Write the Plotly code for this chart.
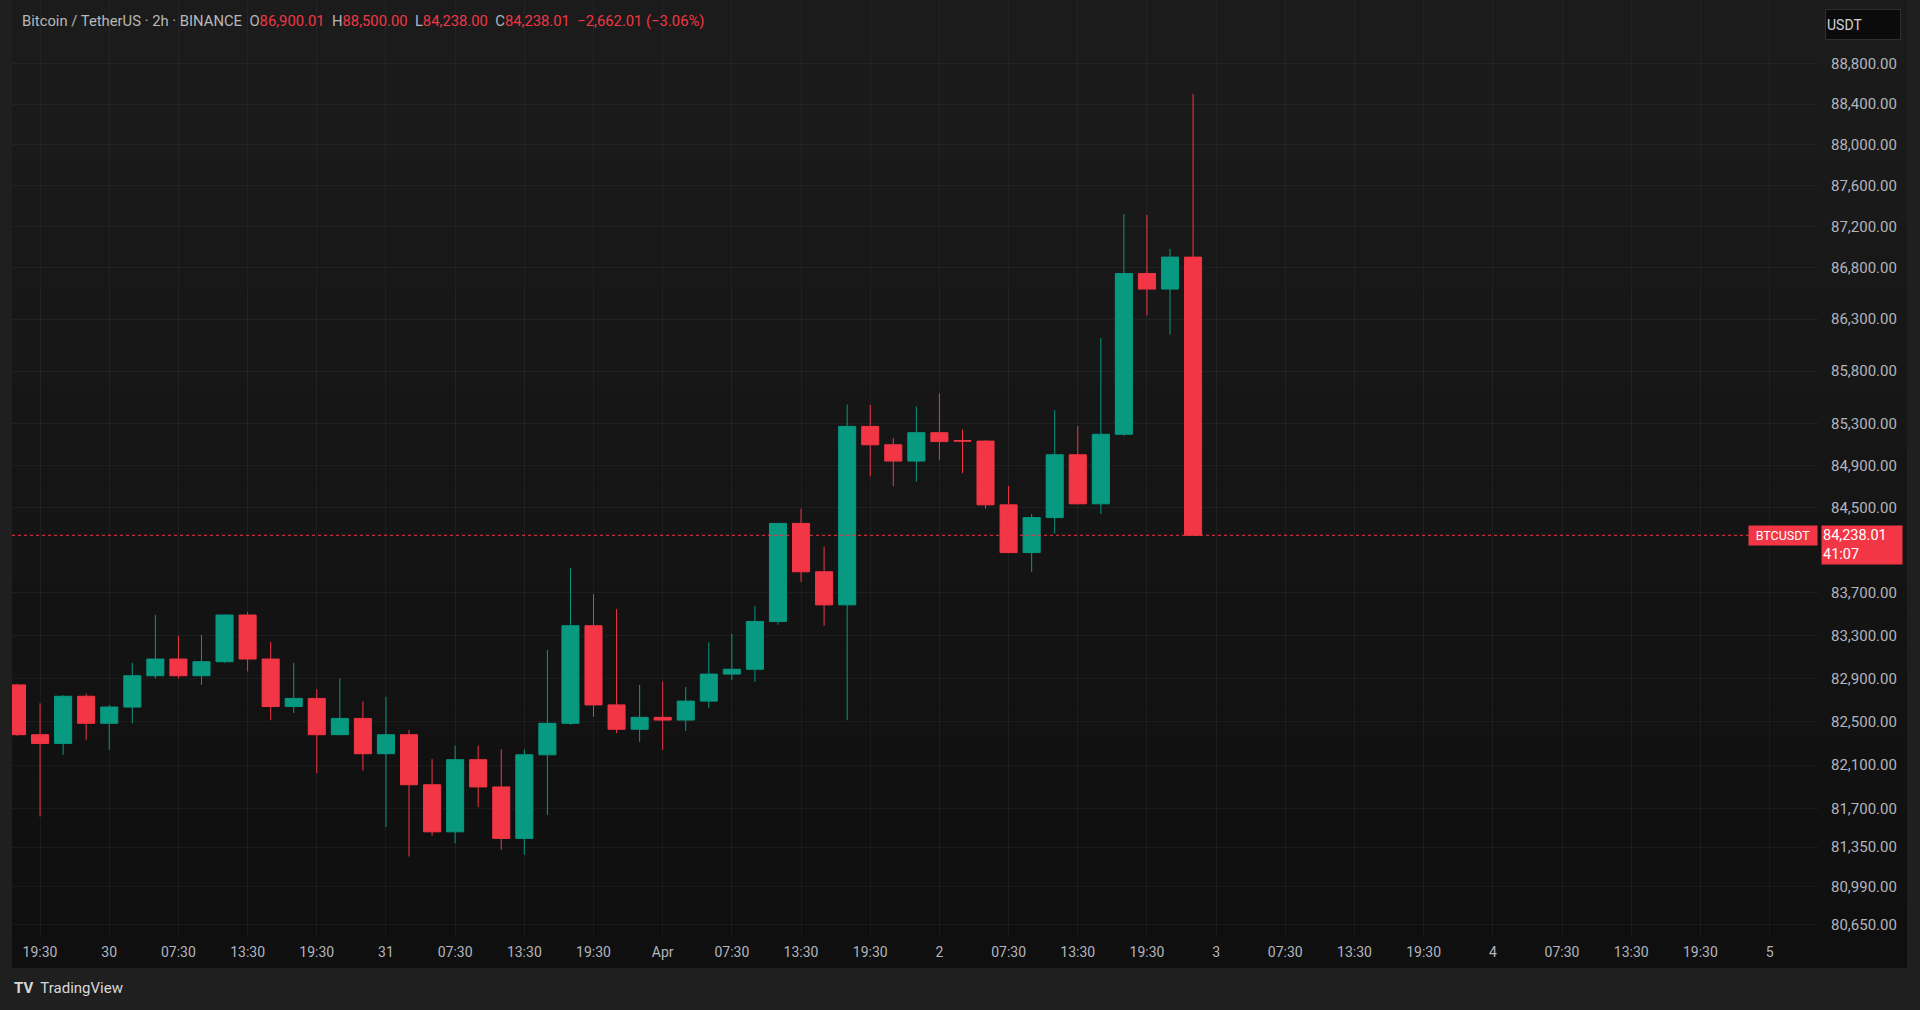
import plotly.graph_objects as go
import pandas as pd
import numpy as np

# ---------------- data (BTC/USDT, 2h bars) ----------------
opens = [82840, 82380, 82300, 82735, 82485, 82635, 82925, 83080, 82925, 83055,
         83490, 83080, 82640, 82715, 82380, 82530, 82205, 82380, 81920, 81490,
         82150, 81900, 81430, 82195, 82485, 83390, 82655, 82430, 82540, 82515,
         82690, 82940, 82985, 83430, 84350, 83895, 83585, 85270, 85095, 84940,
         85210, 85135, 85130, 84525, 84075, 84405, 85000, 84535, 85195, 86740,
         86590, 86900.01]
highs = [82850, 82670, 82745, 82760, 82655, 83045, 83490, 83295, 83305, 83495,
         83520, 83240, 83045, 82800, 82900, 82685, 82730, 82425, 82155, 82280,
         82280, 82245, 82245, 83165, 83930, 83685, 83545, 82840, 82870, 82820,
         83235, 83315, 83575, 84355, 84490, 84130, 85480, 85475, 85160, 85460,
         85585, 85240, 85140, 84705, 84440, 85425, 85275, 86115, 87320, 87310,
         86980, 88500.00]
lows = [82370, 81630, 82195, 82330, 82240, 82485, 82900, 82900, 82840, 83045,
        82965, 82515, 82580, 82025, 82375, 82050, 81535, 81265, 81455, 81385,
        81715, 81325, 81280, 81645, 82470, 82545, 82395, 82315, 82240, 82415,
        82625, 82885, 82870, 83400, 83800, 83390, 82515, 84795, 84700, 84745,
        84950, 84825, 84490, 84070, 83895, 84255, 84530, 84440, 85180, 86335,
        86150, 84238.00]
closes = [82380, 82300, 82735, 82485, 82635, 82925, 83080, 82925, 83055, 83490,
          83080, 82640, 82715, 82380, 82530, 82205, 82380, 81920, 81490, 82150,
          81900, 81430, 82195, 82485, 83390, 82655, 82430, 82540, 82515, 82690,
          82940, 82985, 83430, 84350, 83895, 83585, 85270, 85095, 84940, 85210,
          85125, 85130, 84525, 84075, 84405, 85000, 84535, 85195, 86740, 86590,
          86900, 84238.01]
bar_times = pd.date_range("2025-03-29 17:30", periods=len(opens), freq="2h")

x_tick_vals = pd.date_range("2025-03-29 19:30", periods=26, freq="6h")
x_tick_text = ["19:30", "30", "07:30", "13:30", "19:30", "31", "07:30", "13:30",
               "19:30", "Apr", "07:30", "13:30", "19:30", "2", "07:30", "13:30",
               "19:30", "3", "07:30", "13:30", "19:30", "4", "07:30", "13:30",
               "19:30", "5"]
y_tick_vals = [88800, 88400, 88000, 87600, 87200, 86800, 86300, 85800, 85300,
               84900, 84500, 83700, 83300, 82900, 82500, 82100, 81700, 81350,
               80990, 80650]
y_tick_text = [f"{v:,.2f}" for v in y_tick_vals]

symbol_title = "Bitcoin / TetherUS · 2h · BINANCE"
change_text = "−2,662.01 (−3.06%)"
countdown = "41:07"

# ---------------- styling / layout helpers ----------------
W, H = 1920, 1010
PL, PR, PT, PB = 12, 1818, 0, 937  # plot area in pixels


def xp(px):
    return (px - PL) / (PR - PL)


def yp(py):
    return (PB - py) / (PB - PT)


GREEN = "#089981"
RED = "#f23645"
TXT = "#b2b5be"
FONT = "Roboto"

fig = go.Figure()
fig.add_trace(go.Candlestick(
    x=bar_times, open=opens, high=highs, low=lows, close=closes,
    increasing=dict(line=dict(color=GREEN, width=1), fillcolor=GREEN),
    decreasing=dict(line=dict(color=RED, width=1), fillcolor=RED),
    whiskerwidth=0, showlegend=False, hoverinfo="skip",
))

shapes = []
# pane background with slight vertical gradient
n_bands = 30
top_c, bot_c = np.array([28, 28, 28]), np.array([15, 15, 15])
y0px, y1px = 0, 967
for i in range(n_bands):
    a = y0px + (y1px - y0px) * i / n_bands
    b = y0px + (y1px - y0px) * (i + 1) / n_bands
    c = top_c + (bot_c - top_c) * (i + 0.5) / n_bands
    shapes.append(dict(type="rect", xref="paper", yref="paper", layer="below",
                       x0=xp(12), x1=xp(1907), y0=yp(b) - 0.001, y1=yp(a),
                       fillcolor=f"rgb({int(c[0])},{int(c[1])},{int(c[2])})",
                       line=dict(width=0)))
# last price dotted line
shapes.append(dict(type="line", xref="paper", yref="y", x0=0, x1=1,
                   y0=closes[-1], y1=closes[-1], layer="above",
                   line=dict(color=RED, width=1, dash="dot")))

annotations = []
header = (f"<span style='color:#b8b8b8'>{symbol_title}</span>  "
          f"<span style='color:{TXT}'>O</span><span style='color:{RED}'>{opens[-1]:,.2f}</span>  "
          f"<span style='color:{TXT}'>H</span><span style='color:{RED}'>{highs[-1]:,.2f}</span>  "
          f"<span style='color:{TXT}'>L</span><span style='color:{RED}'>{lows[-1]:,.2f}</span>  "
          f"<span style='color:{TXT}'>C</span><span style='color:{RED}'>{closes[-1]:,.2f}</span>  "
          f"<span style='color:{RED}'>{change_text}</span>")
annotations.append(dict(xref="paper", yref="paper", x=xp(20), y=yp(21),
                        xanchor="left", yanchor="middle", showarrow=False,
                        text=header, font=dict(family=FONT, size=14.8, color=TXT)))
# currency box
annotations.append(dict(xref="paper", yref="paper", x=xp(1825), y=yp(24),
                        xanchor="left", yanchor="middle", showarrow=False,
                        text="USDT", width=72, height=27, align="left",
                        bgcolor="#0b0b0b", bordercolor="#2f2f2f", borderwidth=1,
                        borderpad=1,
                        font=dict(family=FONT, size=14, color="#d1d4dc")))
# symbol tag on price line
annotations.append(dict(xref="paper", yref="y", x=1.0, y=np.log10(closes[-1]),
                        xanchor="right", yanchor="middle", showarrow=False,
                        text="BTCUSDT", bgcolor=RED, borderpad=2, height=15,
                        width=64,
                        font=dict(family=FONT, size=12.5, color="#ffffff")))
# price + countdown box
annotations.append(dict(xref="paper", yref="y", x=xp(1821), y=np.log10(closes[-1]),
                        xanchor="left", yanchor="top", yshift=10, showarrow=False,
                        text=f"{closes[-1]:,.2f}<br>{countdown}", align="left",
                        width=78, height=36, bgcolor=RED, borderpad=1,
                        font=dict(family=FONT, size=14.5, color="#ffffff")))
# TradingView mark
annotations.append(dict(xref="paper", yref="paper", x=xp(12), y=yp(988),
                        xanchor="left", yanchor="middle", showarrow=False,
                        text="<b>TV</b>  TradingView",
                        font=dict(family=FONT, size=15, color="#d8d8d8")))

y_lo, y_hi = 80537, 89435
x_lo, x_hi = pd.Timestamp("2025-03-29 17:04"), pd.Timestamp("2025-04-05 05:42")

fig.update_layout(
    width=W, height=H,
    margin=dict(l=PL, r=W - PR, t=PT, b=H - PB),
    paper_bgcolor="#1f1f1f",
    plot_bgcolor="rgba(0,0,0,0)",
    boxgap=0.26, boxgroupgap=0,
    shapes=shapes, annotations=annotations,
    showlegend=False,
    xaxis=dict(
        range=[x_lo, x_hi], rangeslider=dict(visible=False),
        tickmode="array", tickvals=x_tick_vals, ticktext=x_tick_text,
        showgrid=True, gridcolor="rgba(255,255,255,0.045)", gridwidth=1,
        zeroline=False, showline=False,
        ticks="outside", ticklen=2, tickcolor="rgba(0,0,0,0)",
        tickfont=dict(family=FONT, size=14, color=TXT),
        fixedrange=True,
    ),
    yaxis=dict(
        type="log", side="right",
        range=[np.log10(y_lo), np.log10(y_hi)],
        tickmode="array", tickvals=y_tick_vals, ticktext=y_tick_text,
        showgrid=True, gridcolor="rgba(255,255,255,0.045)", gridwidth=1,
        zeroline=False, showline=False,
        ticks="outside", ticklen=9, tickcolor="rgba(0,0,0,0)",
        tickfont=dict(family=FONT, size=15, color=TXT),
        fixedrange=True,
    ),
)

fig.write_html(
    "out.html",
    config={"displayModeBar": False},
    post_script="document.body.style.margin='0';"
                "document.body.style.backgroundColor='#1f1f1f';",
)
